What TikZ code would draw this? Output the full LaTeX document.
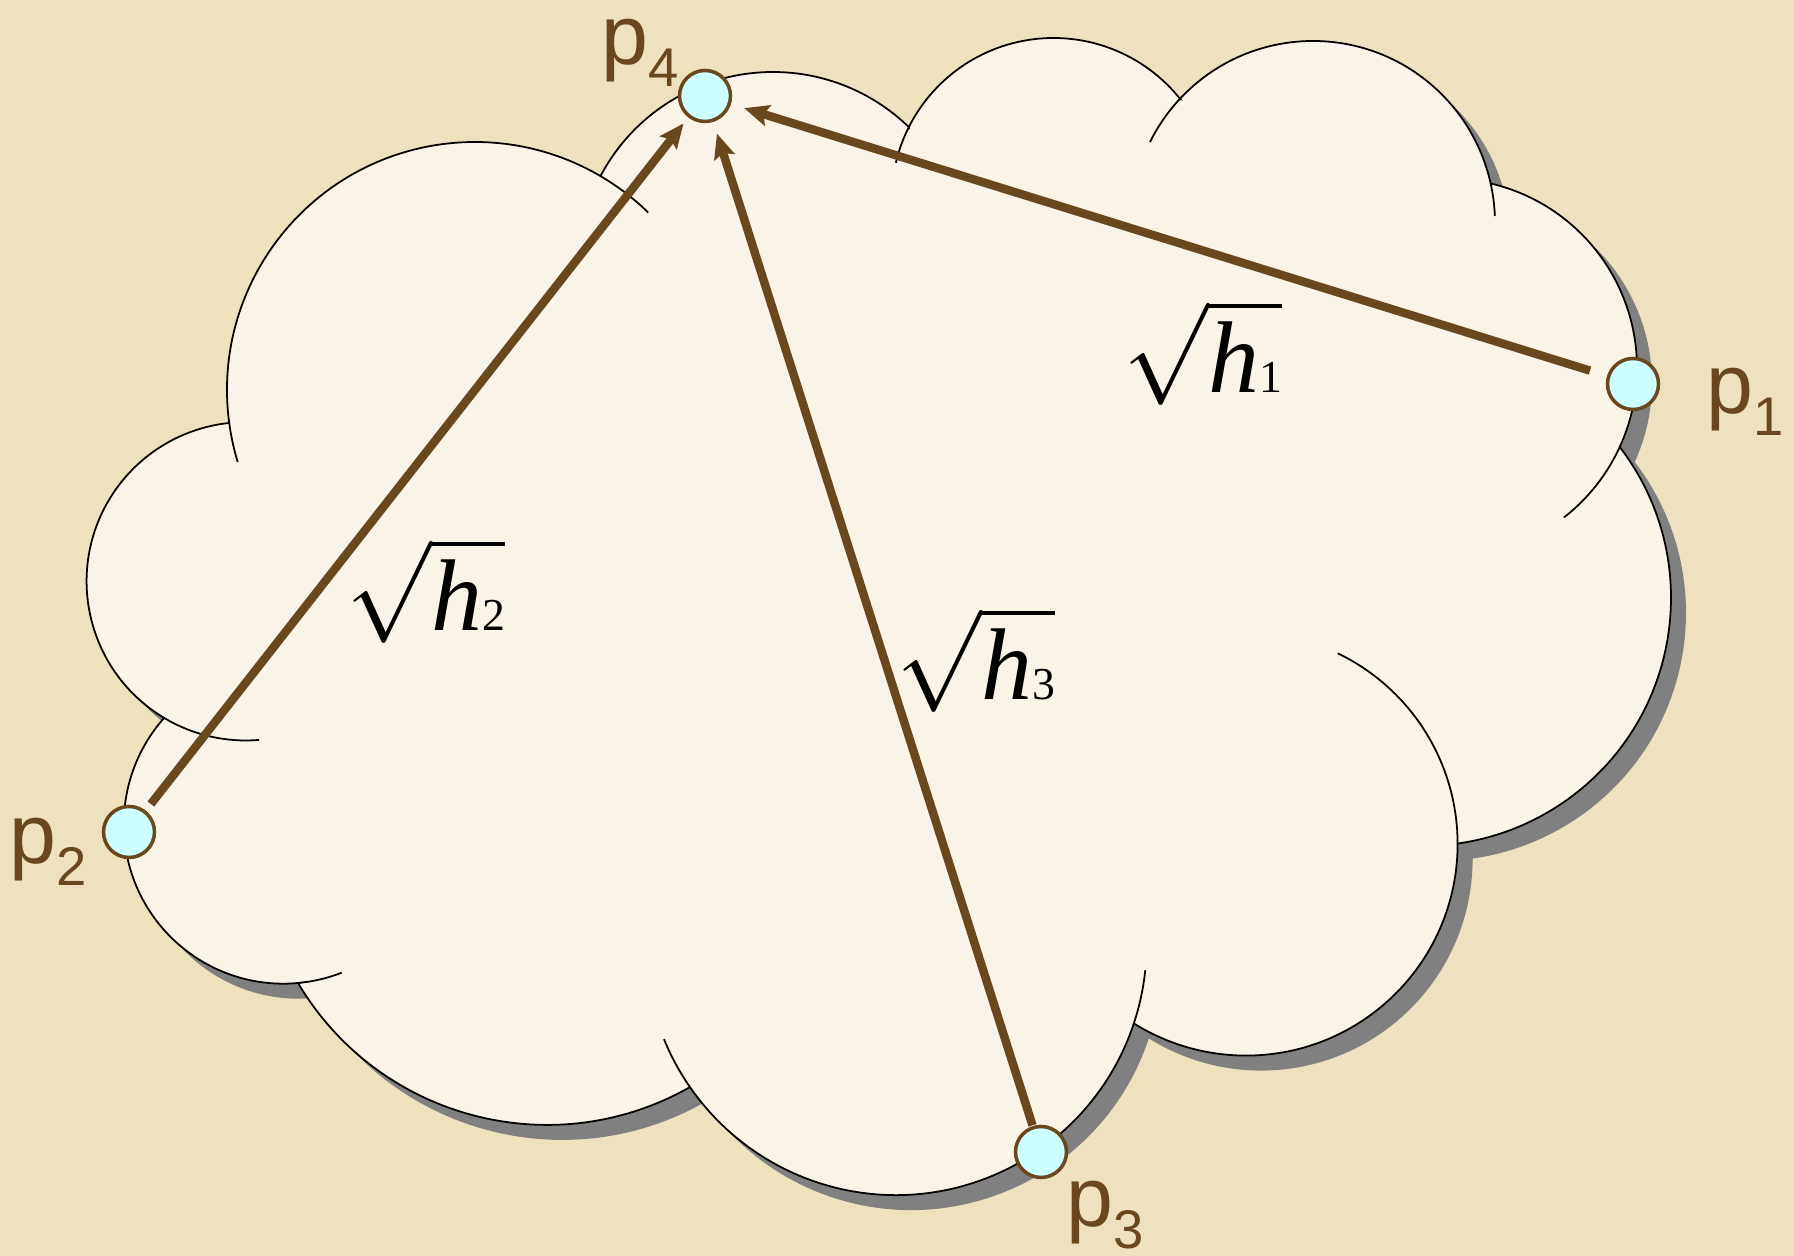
\RequirePackage{fix-cm}
\documentclass[tikz,border=0pt]{standalone}
\usepackage{fontspec}
\setmainfont{Liberation Serif}
\setsansfont{Liberation Sans}
\usetikzlibrary{arrows.meta}
\definecolor{paper}{RGB}{238,225,190}
\definecolor{cloudfill}{RGB}{250,243,232}
\definecolor{shade}{RGB}{128,128,128}
\definecolor{linkbrown}{RGB}{104,72,28}
\definecolor{dotcyan}{RGB}{204,255,255}
\newcommand\lobes{4.75/8.66/2.48/187.6/59.6, 7.73/9.89/1.95/151.9/45.8,
  10.535/10.56/1.62/153.2/38.6, 13.13/10.33/1.82/137.0/12.4,
  14.475/8.88/1.895/76.7/-24.6, 14.23/6.58/2.48/37.5/-81.9,
  12.46/4.12/2.116/0/-122.0, 8.96/3.115/2.506/-18.3/-145.3,
  5.47/4.205/2.894/-60.4/-149.3, 2.835/4.32/1.597/-84.4/-221.6,
  2.458/6.747/1.592/239.1/96.1}
\newcommand\seams{4.75/8.66/2.48/59.6/45.7, 4.75/8.66/2.48/187.6/196.9,
  10.535/10.56/1.62/153.2/166.7, 13.13/10.33/1.82/137.0/153.6,
  13.13/10.33/1.82/12.4/2.2, 14.475/8.88/1.895/-24.6/-52.1,
  12.46/4.12/2.116/0/64.3, 8.96/3.115/2.506/-18.3/-5.9,
  8.96/3.115/2.506/-145.3/-157.8, 2.835/4.32/1.597/-84.4/-68.6,
  2.458/6.747/1.592/239.1/274.8}
\newcommand\psub[1]{p\raisebox{-6pt}{\fontsize{15.5}{16}\selectfont #1}}
\tikzset{
  cloudshape/.style={fill=cloudfill, draw=black, line width=0.5pt},
  cloudshadow/.style={fill=shade},
  seam/.style={draw=black, line width=0.5pt},
  dot/.style={
    circle, draw=linkbrown, fill=dotcyan, line width=1pt,
    minimum size=0.51cm, inner sep=0pt, outer sep=0pt,
  },
  link/.style={
    draw=linkbrown, line width=2.4pt,
    -{Stealth[length=7pt, width=6pt, inset=1.2pt]},
  },
  plabel/.style={
    font=\sffamily\fontsize{24}{26}\selectfont, text=linkbrown,
    inner sep=0pt, anchor=base west,
  },
  root/.style={font=\fontsize{29}{34}\selectfont, inner sep=0pt},
}

\begin{document}
\begin{tikzpicture}

\useasboundingbox (0,0) rectangle (17.94,12.56);
\fill[paper] (0,0) rectangle (17.94,12.56);

\path[cloudshadow, shift={(0.15,-0.15)}] (2.29,8.33)
  foreach \cx/\cy/\r/\a/\b in \lobes {
    -- ([shift={(\a:\r)}]\cx,\cy) arc[start angle=\a, end angle=\b, radius=\r]
  } -- cycle;
\path[cloudshape] (2.29,8.33)
  foreach \cx/\cy/\r/\a/\b in \lobes {
    -- ([shift={(\a:\r)}]\cx,\cy) arc[start angle=\a, end angle=\b, radius=\r]
  } -- cycle;
\foreach \cx/\cy/\r/\a/\b in \seams
  \draw[seam] ([shift={(\a:\r)}]\cx,\cy) arc[start angle=\a, end angle=\b, radius=\r];

\node[dot] (p1) at (16.33,8.72) {};
\node[dot] (p2) at (1.29,4.24) {};
\node[dot] (p3) at (10.41,1.04) {};
\node[dot] (p4) at (7.05,11.60) {};

\draw[link, shorten <=0.195cm, shorten >=0.155cm] (p1) -- (p4);
\draw[link, shorten <=0.10cm, shorten >=0.093cm] (p2) -- (p4);
\draw[link, shorten <=0.025cm, shorten >=0.14cm] (p3) -- (p4);

\node[plabel] (lab1) at (17.06,8.42) {\psub{1}};
\node[plabel] (lab2) at (0.09,3.92) {\psub{2}};
\node[plabel] (lab3) at (10.66,0.29) {\psub{3}};
\node[plabel] (lab4) at (6.01,11.91) {\psub{4}};

\node[root] (h1) at (12.03,9.035) {$\sqrt{\textit{h}\mbox{\fontsize{13}{13}\selectfont 1}}$};
\node[root] (h2) at (4.26,6.655) {$\sqrt{\textit{h}\mbox{\fontsize{13}{13}\selectfont 2}}$};
\node[root] (h3) at (9.755,5.965) {$\sqrt{\textit{h}\mbox{\fontsize{13}{13}\selectfont 3}}$};

\end{tikzpicture}
\end{document}
